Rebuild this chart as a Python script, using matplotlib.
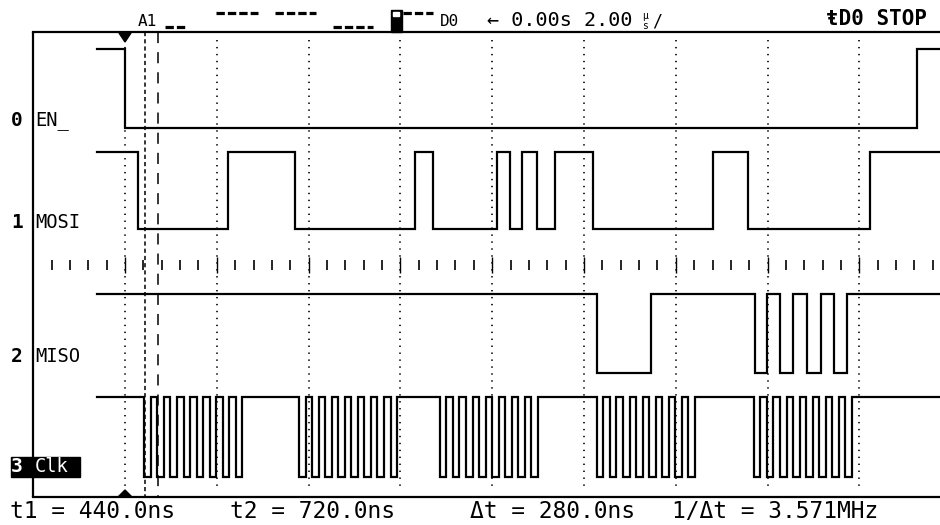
import matplotlib
matplotlib.use("Agg")
import matplotlib.pyplot as plt
from matplotlib.patches import Rectangle, Polygon

# ---- data: logic analyser capture, times in µs, trigger at t = 0 ----
t_start = -0.6
t_end = 17.8

en_edges = [0.0, 17.25]
mosi_edges = [0.28, 2.24, 3.70, 6.32, 6.71, 8.10, 8.39, 8.65, 8.98, 9.37,
              10.20, 12.81, 13.57, 16.23]
miso_edges = [10.28, 11.46, 13.73, 13.99, 14.27, 14.55, 14.86, 15.16, 15.45, 15.73]
clk_bursts = [0.42, 3.79, 6.86, 10.28, 13.70]   # first falling edge of each byte
clk_period = 0.285
clk_bits = 8

ch_names = ["EN_", "MOSI", "MISO", "Clk"]
ch_numbers = ["0", "1", "2", "3"]
high_y = [49, 152, 294, 397]       # screen rows (px)
low_y = [128, 229, 373, 477]
label_y = [120, 222, 357, 467]

t1_ns, t2_ns = 440.0, 720.0
us_per_div = 2.00

# ---- screen geometry ----
W, H = 940, 525
trig_px = 125
px_per_us = 91.8 / us_per_div
top_y, bot_y = 32, 497

plt.rcParams["lines.scale_dashes"] = False
mono = "DejaVu Sans Mono"

fig = plt.figure(figsize=(W / 100, H / 100), dpi=100)
ax = fig.add_axes([0, 0, 1, 1])
ax.set_xlim(-trig_px / px_per_us, (W - trig_px) / px_per_us)
ax.set_ylim(H, 0)
ax.axis("off")

axo = fig.add_axes([0, 0, 1, 1], facecolor="none")
axo.set_xlim(0, W)
axo.set_ylim(H, 0)
axo.axis("off")

# ---- graticule ----
for k in range(0, 9):
    t = k * us_per_div
    ax.vlines(t, 40, 490, color="black", lw=1.2, linestyles=[(0, (1.0, 4.0))])
    ax.vlines(t, 257, 273, color="black", lw=1.0)
minor = [round(-1.6 + 0.4 * i, 2) for i in range(49)]
minor = [m for m in minor if abs(m / 2 - round(m / 2)) > 1e-6]
ax.vlines(minor, 260, 270, color="black", lw=1.2)

# frame
axo.plot([33, 33], [top_y, bot_y], color="black", lw=1.6, solid_capstyle="butt")
axo.plot([33, W], [top_y, top_y], color="black", lw=1.6)
axo.plot([33, W], [bot_y, bot_y], color="black", lw=1.6)

# cursors
ax.vlines(t1_ns / 1000, top_y, bot_y, color="black", lw=1.1, linestyles=[(0, (3.0, 2.2))])
ax.vlines(t2_ns / 1000, top_y, bot_y, color="black", lw=1.1, linestyles=[(0, (8.0, 6.5))])

# trigger markers
axo.add_patch(Polygon([[119, 33], [131, 33], [125, 42]], closed=True, color="black"))
axo.add_patch(Polygon([[118, 497], [132, 497], [125, 490]], closed=True, color="black"))


# ---- traces ----
def trace(edges, hi, lo):
    times = [t_start] + list(edges) + [t_end]
    lv = [hi if i % 2 == 0 else lo for i in range(len(edges) + 1)]
    ax.step(times, lv + [lv[-1]], where="post", color="black", lw=1.6,
            solid_joinstyle="miter")


clk_edges = []
for s in clk_bursts:
    clk_edges += [s + k * clk_period / 2 for k in range(2 * clk_bits)]

for edges, hi, lo in zip([en_edges, mosi_edges, miso_edges, clk_edges], high_y, low_y):
    trace(edges, hi, lo)

# ---- channel labels ----
for i, (num, name, y) in enumerate(zip(ch_numbers, ch_names, label_y)):
    if i == 3:
        axo.add_patch(Rectangle((11, y - 10), 69, 20, color="black"))
        c = "white"
    else:
        c = "black"
    axo.text(17, y, num, fontsize=14, fontweight="bold", family=mono, color=c,
             ha="center", va="center")
    axo.text(35, y, name, fontsize=13.5, family=mono, color=c, ha="left", va="center")

# ---- top status bar ----
axo.text(138, 22, "A1", fontsize=11.5, family=mono, ha="left", va="center")
for x0, x1, y in [(165, 185, 27), (216, 258, 13), (275, 316, 13), (333, 373, 27), (403, 433, 13)]:
    axo.plot([x0, x1], [y, y], color="black", lw=2.3, linestyle=(0, (6.0, 2.2)),
             solid_capstyle="butt")
axo.add_patch(Rectangle((391, 10), 11, 22, color="black"))
axo.add_patch(Rectangle((393, 12), 6, 4, color="white"))
axo.text(440, 22, "D0", fontsize=11.5, family=mono, ha="left", va="center")
axo.text(487, 20, "← 0.00s 2.00", fontsize=14.5, family=mono, ha="left", va="center")
axo.text(645, 16, "µ", fontsize=7, family=mono, ha="center", va="center")
axo.text(645, 26, "s", fontsize=7, family=mono, ha="center", va="center")
axo.text(652, 21, "/", fontsize=12, family=mono, ha="left", va="center")
axo.text(927, 19, "ŧD0 STOP", fontsize=15, family=mono, fontweight="bold",
         ha="right", va="center")

# ---- cursor readout ----
dt = t2_ns - t1_ns
axo.text(10, 511, f"t1 = {t1_ns:.1f}ns", fontsize=16.5, family=mono, ha="left", va="center")
axo.text(230, 511, f"t2 = {t2_ns:.1f}ns", fontsize=16.5, family=mono, ha="left", va="center")
axo.text(470, 511, f"Δt = {dt:.1f}ns", fontsize=16.5, family=mono, ha="left", va="center")
axo.text(672, 511, f"1/Δt = {1000 / dt:.3f}MHz", fontsize=16.5, family=mono,
         ha="left", va="center")

fig.savefig("out.png", dpi=100)
